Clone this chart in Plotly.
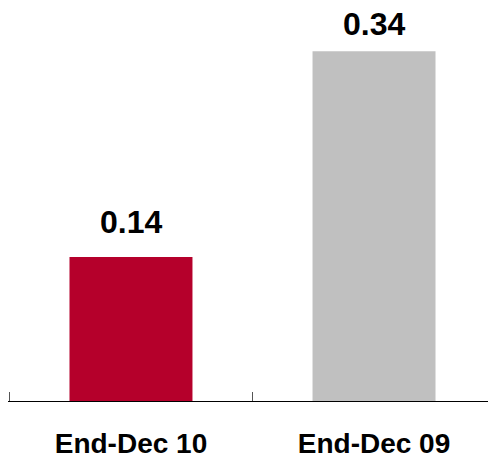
import plotly.graph_objects as go

categories = ["End-Dec 10", "End-Dec 09"]
values = [0.14, 0.34]
labels = ["0.14", "0.34"]
colors = ["#B5002B", "#C0C0C0"]
label_shift = [15, 7]

FONT = "Liberation Sans, Arial, sans-serif"

fig = go.Figure()
fig.add_trace(go.Bar(
    x=categories, y=values,
    marker=dict(color=colors, line=dict(width=0)),
    width=0.506,
))
for c, v, t, s in zip(categories, values, labels, label_shift):
    fig.add_annotation(x=c, y=v, text=t, showarrow=False, yanchor="bottom",
                       yshift=s, font=dict(family=FONT, size=32, color="black", weight="bold"))

fig.update_layout(
    width=488, height=459,
    margin=dict(l=8, r=0, t=10, b=58, autoexpand=False),
    paper_bgcolor="white", plot_bgcolor="white",
    showlegend=False,
    xaxis=dict(
        type="category", range=[-0.506, 1.469], automargin=False,
        showline=True, linecolor="black", linewidth=1,
        ticks="inside", tickson="boundaries", ticklen=9, tickcolor="#555555", tickwidth=1,
        tickfont=dict(family=FONT, size=28, color="black", weight="bold"),
        ticklabelstandoff=17,
        showgrid=False, zeroline=False,
    ),
    yaxis=dict(
        range=[0, 0.38], visible=False, showgrid=False, zeroline=False, automargin=False,
    ),
)

fig.write_html("out.html")
